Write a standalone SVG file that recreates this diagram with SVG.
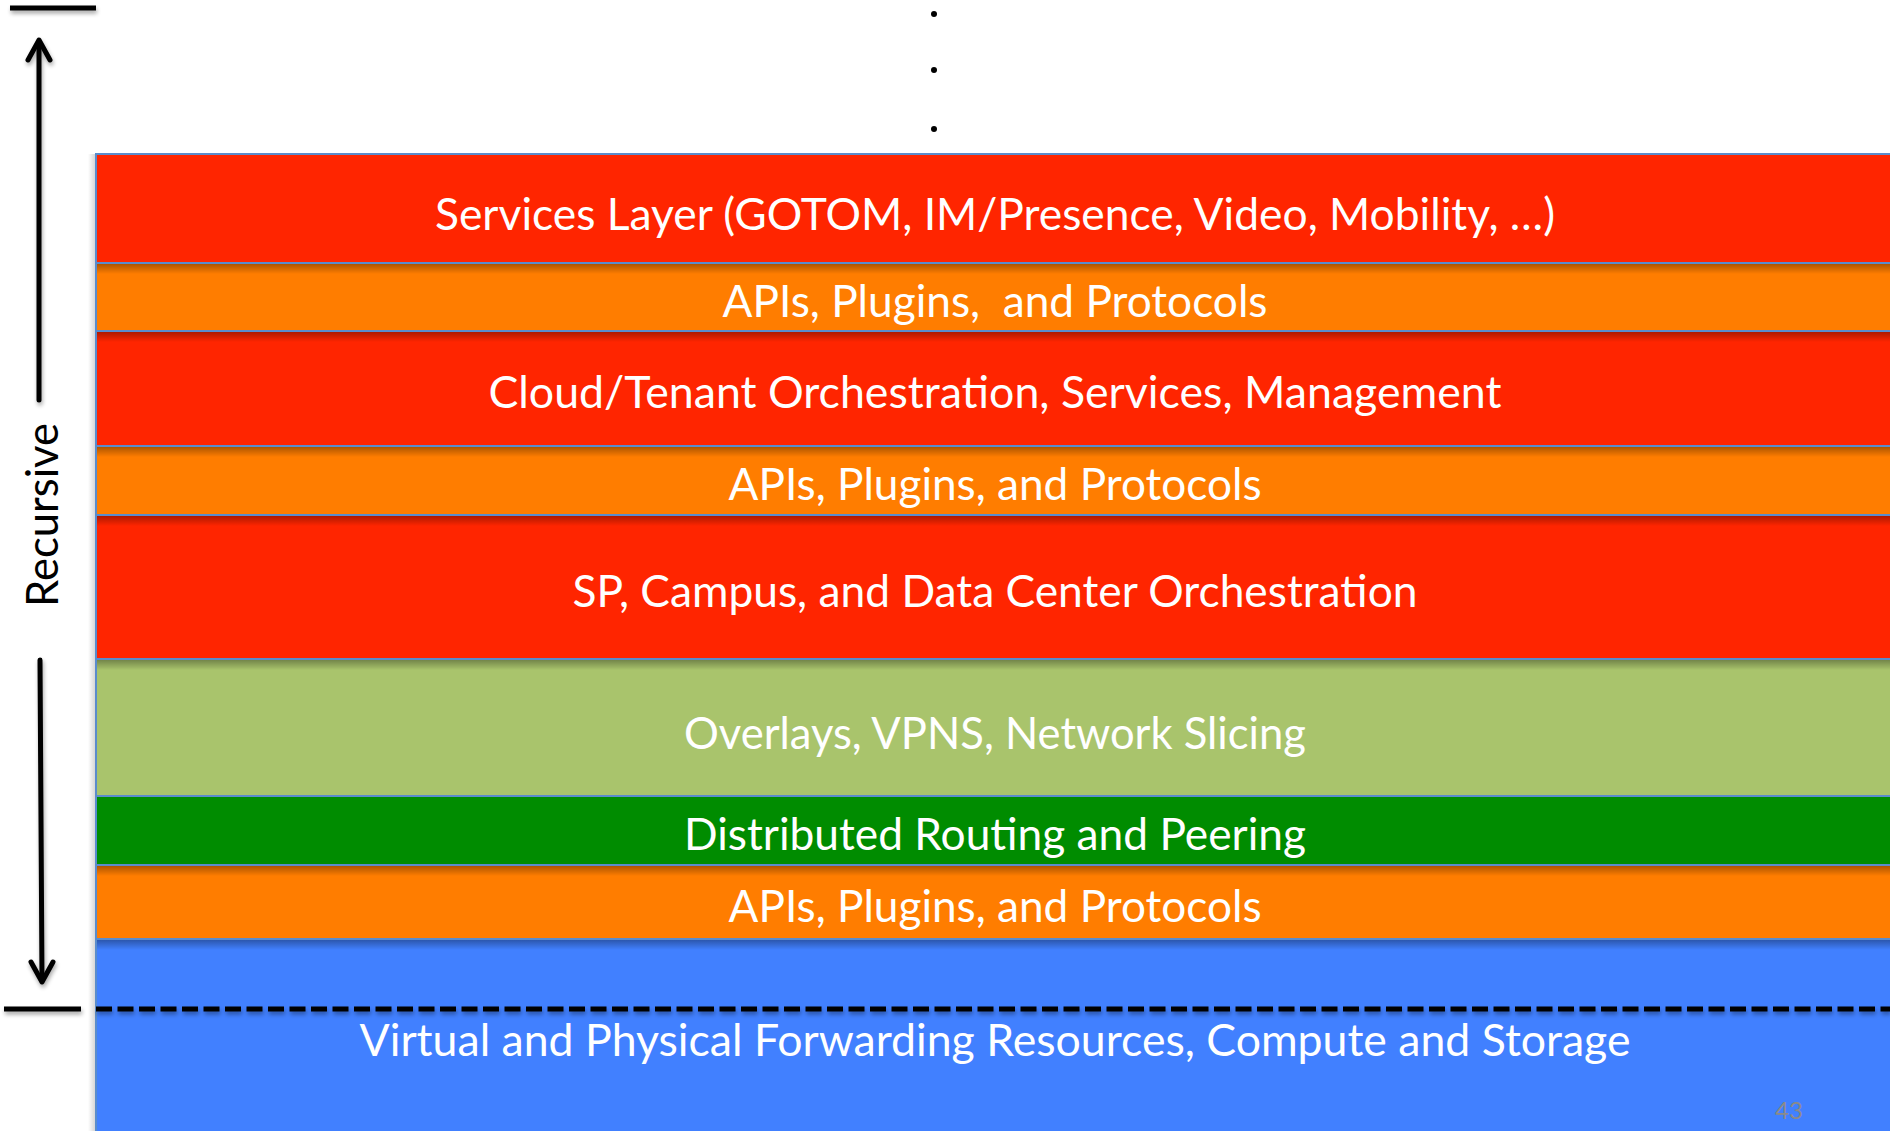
<svg xmlns="http://www.w3.org/2000/svg" width="1890" height="1131" viewBox="0 0 1890 1131">
  <defs>
    <linearGradient id="shadowDown" x1="0" y1="0" x2="0" y2="1">
      <stop offset="0" stop-color="#000" stop-opacity="0.32"/>
      <stop offset="1" stop-color="#000" stop-opacity="0"/>
    </linearGradient>
    <linearGradient id="shadowLeft" x1="1" y1="0" x2="0" y2="0">
      <stop offset="0" stop-color="#000" stop-opacity="0.18"/>
      <stop offset="1" stop-color="#000" stop-opacity="0"/>
    </linearGradient>
    <filter id="ds" x="-50%" y="-50%" width="200%" height="200%">
      <feGaussianBlur in="SourceAlpha" stdDeviation="2"/>
      <feOffset dx="1" dy="3" result="b"/>
      <feComponentTransfer><feFuncA type="linear" slope="0.35"/></feComponentTransfer>
      <feMerge><feMergeNode/><feMergeNode in="SourceGraphic"/></feMerge>
    </filter>
  </defs>
  <style>
    .lbl { font-family: "Lato", "Open Sans", "Liberation Sans", sans-serif; font-size: 44px; fill: #ffffff; text-anchor: middle; white-space: pre; }
    .band { stroke: #5a8ccc; stroke-width: 2; }
    .red { fill: #ff2500; }
    .orange { fill: #ff7d00; }
    .lgreen { fill: #a9c46c; }
    .dgreen { fill: #008c00; }
    .blue { fill: #4180ff; }
    .line { stroke: #000; stroke-width: 5; fill: none; }
    .arrow { stroke: #000; stroke-width: 5; fill: none; stroke-linecap: round; stroke-linejoin: round; }
  </style>

  <rect x="0" y="0" width="1890" height="1131" fill="#ffffff"/>

  <!-- panel left shadow -->
  <rect x="88" y="154" width="8" height="977" fill="url(#shadowLeft)"/>

  <g id="services-layer">
    <rect class="band red" x="96" y="154" width="1800" height="109"/>
    <text class="lbl" x="995" y="230" textLength="1120" lengthAdjust="spacingAndGlyphs">Services Layer (GOTOM, IM/Presence, Video, Mobility, …)</text>
  </g>
  <g id="apis-1">
    <rect class="band orange" x="96" y="263" width="1800" height="68"/>
    <rect x="97" y="264" width="1793" height="10" fill="url(#shadowDown)"/>
    <text class="lbl" x="995" y="317" textLength="545" lengthAdjust="spacingAndGlyphs" xml:space="preserve">APIs, Plugins,  and Protocols</text>
  </g>
  <g id="cloud-orchestration">
    <rect class="band red" x="96" y="331" width="1800" height="115"/>
    <rect x="97" y="332" width="1793" height="10" fill="url(#shadowDown)"/>
    <text class="lbl" x="995" y="408" textLength="1013" lengthAdjust="spacingAndGlyphs">Cloud/Tenant Orchestration, Services, Management</text>
  </g>
  <g id="apis-2">
    <rect class="band orange" x="96" y="446" width="1800" height="69"/>
    <rect x="97" y="447" width="1793" height="10" fill="url(#shadowDown)"/>
    <text class="lbl" x="995" y="500" textLength="533" lengthAdjust="spacingAndGlyphs">APIs, Plugins, and Protocols</text>
  </g>
  <g id="sp-orchestration">
    <rect class="band red" x="96" y="515" width="1800" height="144"/>
    <rect x="97" y="516" width="1793" height="10" fill="url(#shadowDown)"/>
    <text class="lbl" x="995" y="607" textLength="845" lengthAdjust="spacingAndGlyphs">SP, Campus, and Data Center Orchestration</text>
  </g>
  <g id="overlays">
    <rect class="band lgreen" x="96" y="659" width="1800" height="137"/>
    <rect x="97" y="660" width="1793" height="10" fill="url(#shadowDown)"/>
    <text class="lbl" x="995" y="749" textLength="622" lengthAdjust="spacingAndGlyphs">Overlays, VPNS, Network Slicing</text>
  </g>
  <g id="distributed-routing">
    <rect class="band dgreen" x="96" y="796" width="1800" height="69"/>
    <text class="lbl" x="995" y="850" textLength="622" lengthAdjust="spacingAndGlyphs">Distributed Routing and Peering</text>
  </g>
  <g id="apis-3">
    <rect class="band orange" x="96" y="865" width="1800" height="74"/>
    <rect x="97" y="866" width="1793" height="10" fill="url(#shadowDown)"/>
    <text class="lbl" x="995" y="922" textLength="533" lengthAdjust="spacingAndGlyphs">APIs, Plugins, and Protocols</text>
  </g>
  <g id="forwarding-resources">
    <rect class="band blue" x="96" y="939" width="1800" height="200"/>
    <rect x="97" y="940" width="1793" height="10" fill="url(#shadowDown)"/>
    <text class="lbl" x="995" y="1056" textLength="1271" lengthAdjust="spacingAndGlyphs">Virtual and Physical Forwarding Resources, Compute and Storage</text>
    <text x="1789" y="1119" font-family="Lato, 'Open Sans', sans-serif" font-size="24" fill="#8a8a8a" text-anchor="middle">43</text>
  </g>

  <g id="ellipsis">
    <circle cx="934" cy="14" r="3" fill="#000"/>
    <circle cx="934" cy="70" r="3" fill="#000"/>
    <circle cx="934" cy="129" r="3" fill="#000"/>
  </g>

  <g id="recursive-label">
    <text x="58" y="515" transform="rotate(-90 58 515)" font-family="Lato, 'Open Sans', sans-serif" font-size="44" fill="#000" text-anchor="middle" textLength="184" lengthAdjust="spacingAndGlyphs">Recursive</text>
  </g>

  <g id="connectors" filter="url(#ds)">
    <line class="line" x1="10" y1="8" x2="96" y2="8"/>
    <line class="line" x1="4" y1="1009" x2="81" y2="1009"/>
    <line class="line" x1="96" y1="1009" x2="1890" y2="1009" stroke-dasharray="16 5.5"/>
    <line class="arrow" x1="39" y1="42" x2="39" y2="400"/>
    <polyline class="arrow" points="28,60 39,40 50,60"/>
    <line class="arrow" x1="40" y1="660" x2="42" y2="980"/>
    <polyline class="arrow" points="31,962 42,982 53,962"/>
  </g>
</svg>
